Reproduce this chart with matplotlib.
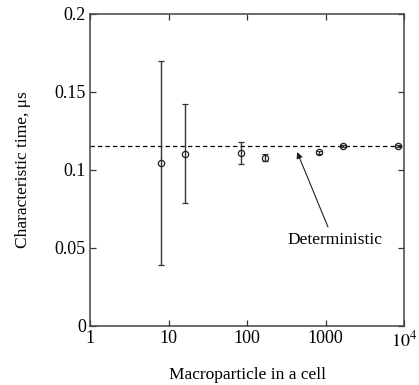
import numpy as np
import matplotlib
matplotlib.use('Agg')
import matplotlib.pyplot as plt

plt.rcParams['font.family'] = 'Liberation Serif'
plt.rcParams['mathtext.fontset'] = 'stix'

# macroparticles per cell vs. characteristic time
n_part = [8, 16, 84, 170, 830, 1660, 8300]
t_char = [0.1045, 0.110, 0.111, 0.108, 0.1115, 0.1154, 0.1154]
t_lo = [0.039, 0.079, 0.104, 0.106, 0.1105, 0.1148, 0.1148]
t_hi = [0.170, 0.142, 0.118, 0.110, 0.1125, 0.1160, 0.1160]
t_det = 0.1154

xticks = [1, 10, 100, 1000, 10000]
xtick_labels = ['1', '10', '100', '1000', '$10^4$']
yticks = [0, 0.05, 0.1, 0.15, 0.2]
ytick_labels = ['0', '0.05', '0.1', '0.15', '0.2']

t_char = np.array(t_char)
yerr = [t_char - np.array(t_lo), np.array(t_hi) - t_char]

fig = plt.figure(figsize=(4.19, 3.85), dpi=100)
ax = fig.add_axes([90/419, 59/385, 314/419, 312/385])

ax.axhline(t_det, color='black', ls=(0, (3.5, 2.5)), lw=0.9)
ax.errorbar(n_part, t_char, yerr=yerr, fmt='o', ms=4.5, mfc='none',
            mec='#222222', mew=0.9, ecolor='#333333', elinewidth=1.0,
            capsize=2.5, capthick=0.9)

ax.set_xscale('log')
ax.set_xlim(1, 10000)
ax.set_ylim(0, 0.2)
ax.set_xticks(xticks)
ax.set_xticklabels(xtick_labels)
ax.set_yticks(yticks)
ax.set_yticklabels(ytick_labels)
ax.minorticks_off()
ax.tick_params(direction='in', top=True, right=True, length=4, width=0.9,
               labelsize=13, colors='#333333', labelcolor='black', pad=3)
for s in ax.spines.values():
    s.set_color('#444444')
    s.set_linewidth(1.1)

ax.set_xlabel('Macroparticle in a cell', fontsize=12.5, labelpad=12)
ax.set_ylabel('Characteristic time, μs', fontsize=12.5, labelpad=17)

# label for the deterministic line
ax.annotate('', xy=(435, 0.1115), xytext=(1075, 0.0635),
            arrowprops=dict(arrowstyle='-|>', color='#222222', lw=0.8,
                            mutation_scale=9, shrinkA=0, shrinkB=0))
ax.text(1320, 0.055, 'Deterministic', ha='center', va='center',
        fontsize=12.5)

fig.savefig('out.png', dpi=100)
